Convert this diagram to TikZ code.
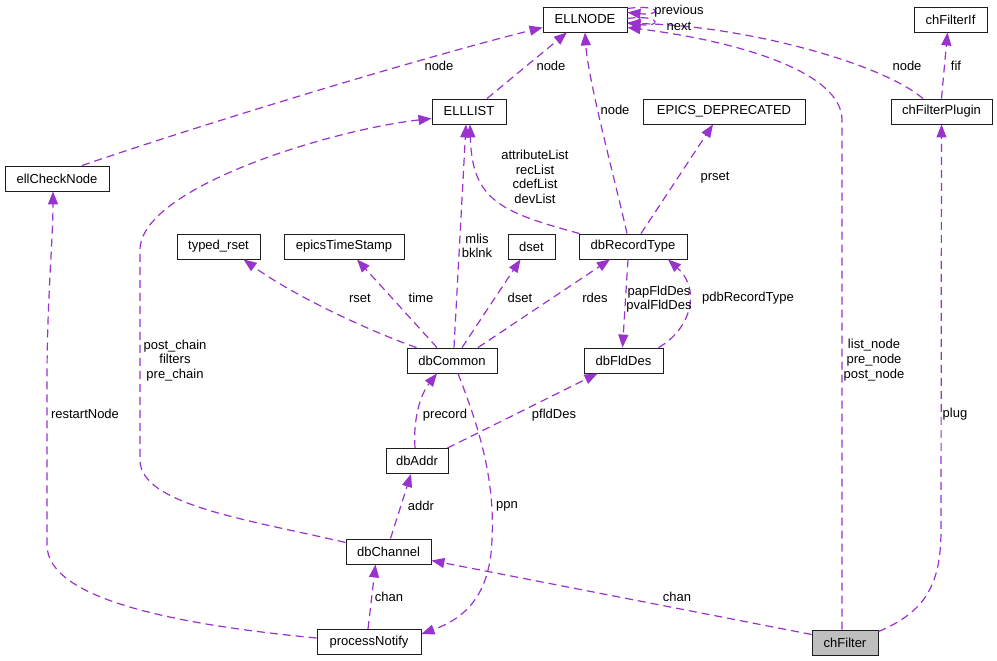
\documentclass[tikz,border=0pt]{standalone}
\usepackage{fontspec}
\setmainfont{Liberation Sans}
\usetikzlibrary{arrows.meta,calc}
\definecolor{purp}{RGB}{154,50,205}
\definecolor{grayfill}{RGB}{191,191,191}
\definecolor{boxline}{RGB}{30,30,30}
\begin{document}
\begin{tikzpicture}[x=1pt,y=-1pt,
  box/.style={draw=boxline,fill=white,line width=0.9pt,minimum height=25pt,inner sep=0pt,font=\fontsize{13}{15}\selectfont},
  lbl/.style={inner sep=0pt,align=center,font=\fontsize{13}{14.7}\selectfont},
  edge/.style={draw=purp,line width=1.2pt,dash pattern=on 8pt off 5pt,-{Triangle[length=13pt,width=10pt]}}]
\useasboundingbox (0,0) rectangle (997,661);
% nodes
\node[box,minimum width=84pt] (ellnode) at (585,19.5) {ELLNODE};
\node[box,minimum width=74pt] (elllist) at (469,111.5) {ELLLIST};
\node[box,minimum width=162pt] (epicsdep) at (724,111.5) {EPICS\_DEPRECATED};
\node[box,minimum width=73pt] (chfif) at (950.5,19.5) {chFilterIf};
\node[box,minimum width=101pt] (chfplug) at (941.5,111.5) {chFilterPlugin};
\node[box,minimum width=104pt] (ellcheck) at (57,178.5) {ellCheckNode};
\node[box,minimum width=83pt] (typedrset) at (218.5,246.5) {typed\_rset};
\node[box,minimum width=120pt] (ets) at (344,246.5) {epicsTimeStamp};
\node[box,minimum width=47pt] (dset) at (531.5,246.5) {dset};
\node[box,minimum width=108pt] (dbrt) at (633,246.5) {dbRecordType};
\node[box,minimum width=90pt] (dbcommon) at (452,360.5) {dbCommon};
\node[box,minimum width=79pt] (dbflddes) at (623.5,360.5) {dbFldDes};
\node[box,minimum width=62pt] (dbaddr) at (417,461) {dbAddr};
\node[box,minimum width=85pt] (dbchannel) at (388.5,551.5) {dbChannel};
\node[box,minimum width=104pt] (pnotify) at (369,642) {processNotify};
\node[box,minimum width=66pt,fill=grayfill] (chfilter) at (845,642.5) {chFilter};
% edges
\draw[edge] ($(ellcheck.north)+(25,0)$) .. controls (200,125) and (420,58) .. ($(ellnode.west)+(0,8)$);
\draw[edge] ($(elllist.north)+(18,0)$) -- ($(ellnode.south)+(-18,0)$);
\draw[edge] ($(dbrt.north)+(-6,0)$) .. controls (615,180) and (588,80) .. (ellnode.south);
\draw[edge] ($(ellnode.east)+(0,-11)$) .. controls (662,4) and (662,16) .. ($(ellnode.east)+(0,-7)$);
\draw[edge] ($(ellnode.east)+(0,-1)$) .. controls (662,14) and (662,28) .. ($(ellnode.east)+(0,3)$);
\draw[edge] ($(chfplug.north)+(-18.5,0)$) .. controls (880,62) and (740,25) .. ($(ellnode.east)+(0,4)$);
\draw[edge] ($(chfilter.north)+(-3,0)$) -- (842,120) .. controls (842,70) and (730,40) .. ($(ellnode.east)+(0,8)$);
\draw[edge] (chfplug.north) -- ($(chfif.south)+(-3,0)$);
\draw[edge] ($(chfilter.north east)+(0,2)$) .. controls (925,612) and (941,585) .. (941,530) -- (chfplug.south);
\draw[edge] ($(dbchannel.west)+(0,-9)$) .. controls (250,520) and (140,505) .. (140,460) -- (140,250) .. controls (140,188) and (330,130) .. ($(elllist.west)+(0,7)$);
\draw[edge] ($(dbcommon.north)+(2,0)$) -- ($(elllist.south)+(-3,0)$);
\draw[edge] ($(dbrt.north west)+(1,0)$) .. controls (500,212) and (472,200) .. ($(elllist.south)+(1,0)$);
\draw[edge] ($(dbrt.north)+(8,0)$) -- ($(epicsdep.south)+(-11,0)$);
\draw[edge] ($(pnotify.west)+(0,-4)$) .. controls (180,625) and (47,600) .. (47,545) -- (47,380) .. controls (47,300) and (53,240) .. ($(ellcheck.south)+(-4,0)$);
\draw[edge] ($(dbcommon.north west)+(10,0)$) .. controls (380,335) and (300,300) .. ($(typedrset.south)+(25,0)$);
\draw[edge] ($(dbcommon.north)+(-15,0)$) -- ($(ets.south)+(13,0)$);
\draw[edge] ($(dbcommon.north)+(10,0)$) -- ($(dset.south)+(-11,0)$);
\draw[edge] ($(dbcommon.north)+(26,0)$) -- ($(dbrt.south)+(-23,0)$);
\draw[edge] ($(dbrt.south)+(-5,0)$) -- ($(dbflddes.north)+(-1,0)$);
\draw[edge] ($(dbflddes.north)+(35,0)$) .. controls (690,330) and (702,290) .. ($(dbrt.south)+(35,0)$);
\draw[edge] ($(dbaddr.north)+(-2,0)$) .. controls (413,420) and (420,395) .. ($(dbcommon.south)+(-15,0)$);
\draw[edge] ($(dbaddr.north east)+(-1,0)$) -- ($(dbflddes.south)+(-26,0)$);
\draw[edge] ($(dbcommon.south)+(6,0)$) .. controls (480,430) and (495,480) .. (492,540) .. controls (490,600) and (460,620) .. ($(pnotify.east)+(0,-8)$);
\draw[edge] ($(dbchannel.north)+(2,0)$) -- ($(dbaddr.south)+(-6,0)$);
\draw[edge] ($(pnotify.north)+(-1,0)$) -- ($(dbchannel.south)+(-13,0)$);
\draw[edge] ($(chfilter.west)+(0,-8)$) -- ($(dbchannel.east)+(0,9)$);
% labels
\node[lbl] (l1) at (439,66) {node};
\node[lbl] (l2) at (551,66) {node};
\node[lbl] (l3) at (615,110) {node};
\node[lbl] (l4) at (679,11) {previous};
\node[lbl] (l5) at (679,26) {next};
\node[lbl] (l6) at (907,66) {node};
\node[lbl] (l7) at (956,66) {fif};
\node[lbl] (l8) at (874,360) {list\_node\\pre\_node\\post\_node};
\node[lbl] (l9) at (955,414) {plug};
\node[lbl] (l10) at (175,360.5) {post\_chain\\filters\\pre\_chain};
\node[lbl] (l11) at (477,246) {mlis\\bklnk};
\node[lbl] (l12) at (535,177) {attributeList\\recList\\cdefList\\devList};
\node[lbl] (l13) at (715,178) {prset};
\node[lbl] (l14) at (85,414) {restartNode};
\node[lbl] (l15) at (360,298) {rset};
\node[lbl] (l16) at (421,298) {time};
\node[lbl] (l17) at (520,298) {dset};
\node[lbl] (l18) at (595,298) {rdes};
\node[lbl] (l19) at (659,299) {papFldDes\\pvalFldDes};
\node[lbl] (l20) at (748,298) {pdbRecordType};
\node[lbl] (l21) at (445,415) {precord};
\node[lbl] (l22) at (554,415) {pfldDes};
\node[lbl] (l23) at (507,506) {ppn};
\node[lbl] (l24) at (421,506) {addr};
\node[lbl] (l25) at (389,597) {chan};
\node[lbl] (l26) at (677,597) {chan};
\end{tikzpicture}
\end{document}
